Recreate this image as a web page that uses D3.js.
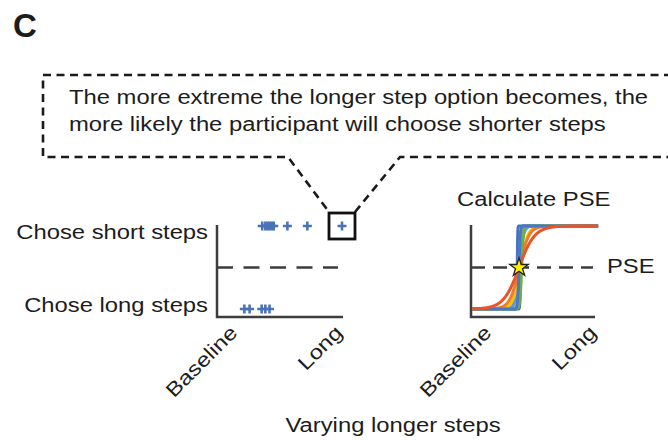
<!DOCTYPE html>
<html>
<head>
<meta charset="utf-8">
<script src="https://cdn.jsdelivr.net/npm/d3@7"></script>
<style>
  html, body { margin: 0; padding: 0; background: #fff; }
  svg { display: block; font-family: "Liberation Sans", Arial, sans-serif; }
</style>
</head>
<body>
<svg id="chart" width="668" height="440"></svg>
<script>
// Stimulus axis: 0 = baseline step length, 1 = the longest "long step" option
const xCategories = ["Baseline", "Long"];
const responseLabels = ["Chose long steps", "Chose short steps"];

// Single-participant choices at each tested long-step level
const choseShortLevels = [0.24, 0.27, 0.29, 0.31, 0.33, 0.35, 0.48, 0.67, 1.0];
const choseLongLevels = [0.07, 0.12, 0.235, 0.27, 0.31];
const highlightedLevel = 1.0;

// Psychometric fits, one per participant (PSE and spread on the same 0-1 axis)
const fitColors = ["#4472c4", "#3b64b0", "#a5a5a5", "#5b9bd5", "#ffc000", "#ed7d31", "#70ad47", "#4a78c8", "#e8552b"];
const fitPSE    = [0.250, 0.282, 0.262, 0.268, 0.280, 0.270, 0.292, 0.266, 0.267];
const fitSpread = [0.002, 0.003, 0.012, 0.020, 0.035, 0.045, 0.008, 0.006, 0.074];
const groupPSE = 0.267;

const textLines = [
  "The more extreme the longer step option becomes, the",
  "more likely the participant will choose shorter steps"
];

const svg = d3.select("#chart");
const ink = "#1c1c1c";
const axisInk = "#3d3d3d";
const STRETCH = 1.19;   // the figure's sans face runs wider than Arial

function label(x, y, txt, opts = {}) {
  const sx = opts.noStretch ? 1 : STRETCH;
  return svg.append("text")
    .attr("transform", `translate(${x},${y}) scale(${sx},1)`)
    .attr("fill", ink)
    .attr("font-size", opts.size || 20)
    .attr("font-weight", opts.weight || "normal")
    .attr("text-anchor", opts.anchor || "start")
    .text(txt);
}

// Panel letter
label(13, 37, "C", { size: 33, weight: "bold", noStretch: true });

// Shared response scale
const y = d3.scaleLinear().domain([0, 1]).range([309, 226]);
const axisTop = 225, axisBottom = 317;

function drawPanel(x0, xEnd, x) {
  const g = svg.append("g");
  g.append("path")
    .attr("d", `M${x0},${axisTop}V${axisBottom}H${xEnd}`)
    .attr("fill", "none").attr("stroke", axisInk).attr("stroke-width", 2.5);

  // category tick labels, rotated
  const ax = g.append("g")
    .attr("transform", `translate(0,${axisBottom})`)
    .call(d3.axisBottom(x).tickValues([0, 1]).tickSize(0).tickFormat((d, i) => xCategories[i]));
  ax.select(".domain").remove();
  ax.selectAll("text")
    .attr("x", 0).attr("y", 0).attr("dy", 0)
    .attr("font-size", 20)
    .attr("font-family", "Liberation Sans, Arial, sans-serif")
    .attr("fill", ink)
    .attr("text-anchor", "end")
    .attr("transform", `translate(1,17) rotate(-45) scale(${STRETCH},1)`);
  return g;
}

// ---- Left panel: raw choices ----
const xL = d3.scaleLinear().domain([0, 1]).range([237, 342]);
const left = drawPanel(217, 343, xL);

left.append("line")
  .attr("x1", 217).attr("x2", 338)
  .attr("y1", y(0.5)).attr("y2", y(0.5))
  .attr("stroke", axisInk).attr("stroke-width", 2.5)
  .attr("stroke-dasharray", "16,10.5");

function plus(px, py) {
  const h = 4.5;
  left.append("path")
    .attr("d", `M${px - h},${py}H${px + h}M${px},${py - h}V${py + h}`)
    .attr("stroke", "#4a72b6").attr("stroke-width", 2.6).attr("fill", "none");
}
choseShortLevels.forEach(v => plus(xL(v), y(1)));
choseLongLevels.forEach(v => plus(xL(v), y(0)));

label(208, 239, responseLabels[1], { anchor: "end" });
label(208, 312, responseLabels[0], { anchor: "end" });

// Highlight box around the most extreme choice, with call-out
const hx = xL(highlightedLevel), hy = y(1);
const hb = 13;
svg.append("rect")
  .attr("x", hx - hb).attr("y", hy - hb)
  .attr("width", hb * 2).attr("height", hb * 2)
  .attr("fill", "none").attr("stroke", "#111").attr("stroke-width", 2.8);

const calloutTop = 75, calloutBottom = 157, calloutLeft = 43;
svg.append("path")
  .attr("d",
    `M672,${calloutTop}H${calloutLeft}V${calloutBottom}H288L${hx - hb},${hy - hb - 1}` +
    `M${hx + hb},${hy - hb - 1}L400,${calloutBottom}H672`)
  .attr("fill", "none").attr("stroke", "#1a1a1a").attr("stroke-width", 2.6)
  .attr("stroke-dasharray", "8,5.5");

label(69, 104, textLines[0]);
label(69, 131, textLines[1]);

// ---- Right panel: fitted psychometric curves ----
const xR = d3.scaleLinear().domain([0, 1]).range([491, 596]);
const right = drawPanel(471, 595, xR);

right.append("line")
  .attr("x1", 471).attr("x2", 593)
  .attr("y1", y(0.5)).attr("y2", y(0.5))
  .attr("stroke", axisInk).attr("stroke-width", 2.5)
  .attr("stroke-dasharray", "14,8");

const curveX = d3.range(-0.18, 1.0201, 0.002);
const line = d3.line().x(d => xR(d[0])).y(d => y(d[1]));
fitColors.forEach((c, i) => {
  const pts = curveX.map(v => [v, 1 / (1 + Math.exp(-(v - fitPSE[i]) / fitSpread[i]))]);
  right.append("path")
    .attr("d", line(pts))
    .attr("fill", "none").attr("stroke", c).attr("stroke-width", 3)
    .attr("stroke-linejoin", "round");
});

right.append("path")
  .attr("d", d3.symbol().type(d3.symbolStar).size(105)())
  .attr("transform", `translate(${xR(groupPSE)},${y(0.5)})`)
  .attr("fill", "#ffee00").attr("stroke", "#222").attr("stroke-width", 1.3);

label(457, 206, "Calculate PSE");
label(607, 273, "PSE");

label(393, 432, "Varying longer steps", { anchor: "middle" });
</script>
</body>
</html>
